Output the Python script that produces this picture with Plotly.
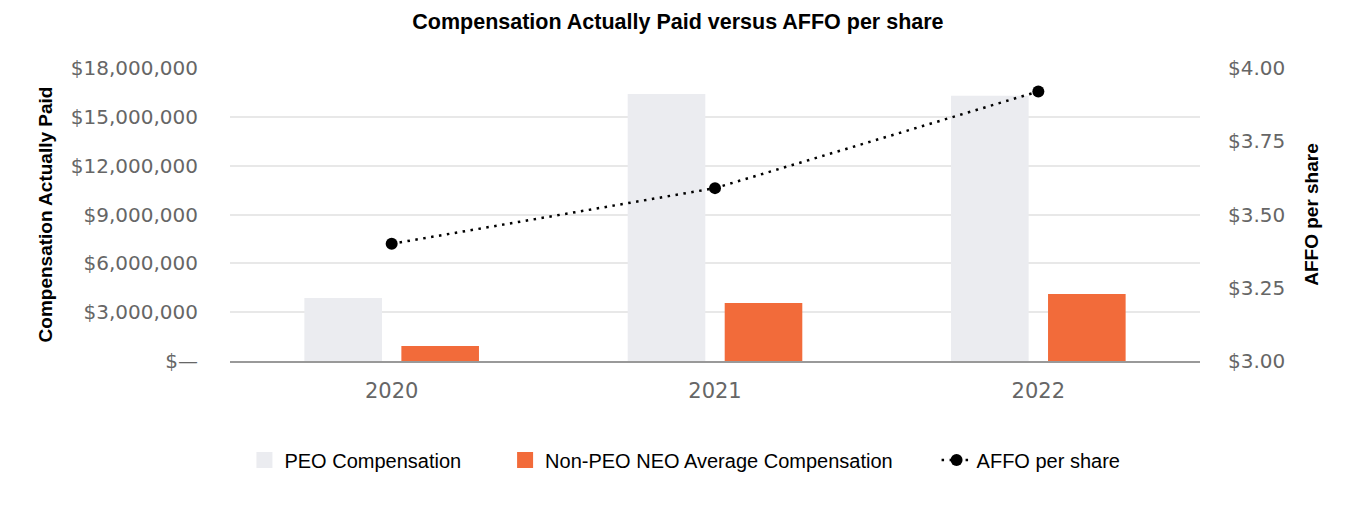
import plotly.graph_objects as go

years = ["2020", "2021", "2022"]
peo_comp = [3870000, 16400000, 16300000]
non_peo_comp = [920000, 3560000, 4120000]
affo = [3.40, 3.59, 3.92]

left_tickvals = [0, 3000000, 6000000, 9000000, 12000000, 15000000, 18000000]
left_ticktext = ["$—", "$3,000,000", "$6,000,000", "$9,000,000", "$12,000,000", "$15,000,000", "$18,000,000"]
right_tickvals = [3.00, 3.25, 3.50, 3.75, 4.00]
right_ticktext = ["$3.00", "$3.25", "$3.50", "$3.75", "$4.00"]

peo_color = "#ebecf0"
non_peo_color = "#f26b3a"

narrow = "Liberation Sans Narrow, Arial Narrow, sans-serif"
wide = "DejaVu Sans, Verdana, sans-serif"
bold = "Liberation Sans, Arial, sans-serif"

pad = "\u00a0" * 7

fig = go.Figure()
fig.add_trace(go.Bar(x=years, y=peo_comp, name="PEO Compensation", legendgroup="peo",
                     showlegend=False, marker=dict(color=peo_color, line=dict(width=0))))
fig.add_trace(go.Bar(x=years, y=non_peo_comp, name="Non-PEO NEO Average Compensation",
                     legendgroup="npeo", showlegend=False,
                     marker=dict(color=non_peo_color, line=dict(width=0))))
# legend proxies (larger square swatches)
fig.add_trace(go.Scatter(x=[None], y=[None], mode="markers", name="PEO Compensation" + pad,
                         legendgroup="peo",
                         marker=dict(symbol="square", size=22, color=peo_color)))
fig.add_trace(go.Scatter(x=[None], y=[None], mode="markers",
                         name="Non-PEO NEO Average Compensation" + pad, legendgroup="npeo",
                         marker=dict(symbol="square", size=22, color=non_peo_color)))
fig.add_trace(go.Scatter(x=years, y=affo, name="AFFO per share", yaxis="y2",
                         mode="lines+markers",
                         line=dict(color="black", dash="2.5px,5.5px", width=2.5),
                         marker=dict(color="black", size=12)))

fig.update_layout(
    width=1360, height=520,
    paper_bgcolor="white", plot_bgcolor="white",
    margin=dict(l=222, r=168, t=60, b=167),
    barmode="group", bargap=0.4, bargroupgap=0.2,
    title=dict(text="<b>Compensation Actually Paid versus AFFO per share</b>",
               x=0.4926, xref="container", y=0.975, yanchor="middle",
               font=dict(family=bold, size=21.5, color="black")),
    xaxis=dict(showgrid=False, showline=True, linecolor="#999999", linewidth=2,
               ticks="outside", tickcolor="rgba(0,0,0,0)", ticklen=10,
               tickfont=dict(family=wide, size=21, color="#666666")),
    yaxis=dict(range=[0, 18000000], tickvals=left_tickvals, ticktext=left_ticktext,
               showgrid=True, gridcolor="#e8e8e8", gridwidth=2, zeroline=False,
               ticks="outside", tickcolor="rgba(0,0,0,0)", ticklen=27,
               tickfont=dict(family=wide, size=20, color="#666666"),
               title=dict(text="<b>Compensation Actually Paid</b>", standoff=13,
                          font=dict(family=bold, size=19, color="black"))),
    yaxis2=dict(range=[3.0, 4.0], tickvals=right_tickvals, ticktext=right_ticktext,
                overlaying="y", side="right", showgrid=False, zeroline=False,
                ticks="outside", tickcolor="rgba(0,0,0,0)", ticklen=23,
                tickfont=dict(family=wide, size=20, color="#666666"),
                title=dict(text="<b>AFFO per share</b>", standoff=20,
                           font=dict(family=bold, size=19, color="black"))),
    legend=dict(orientation="h", x=0.469, xanchor="center", y=-0.338, yanchor="middle",
                font=dict(family=narrow, size=20, color="black"),
                itemsizing="trace", traceorder="normal", itemwidth=30),
    showlegend=True,
)

fig.write_html("out.html")
